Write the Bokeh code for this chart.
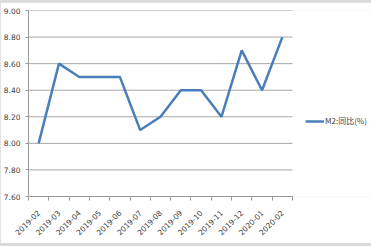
import math
from bokeh.plotting import figure
from bokeh.models import (ColumnDataSource, FixedTicker, NumeralTickFormatter,
                          Range1d, Legend, LegendItem)
from bokeh.layouts import column
from bokeh.embed import file_html
from bokeh.resources import INLINE

categories = ["2019-02", "2019-03", "2019-04", "2019-05", "2019-06", "2019-07",
              "2019-08", "2019-09", "2019-10", "2019-11", "2019-12", "2020-01", "2020-02"]
m2_yoy = [8.0, 8.6, 8.5, 8.5, 8.5, 8.1, 8.2, 8.4, 8.4, 8.2, 8.7, 8.4, 8.8]
y_ticks = [7.6, 7.8, 8.0, 8.2, 8.4, 8.6, 8.8, 9.0]
series_name = "M2:同比(%)"

n = len(categories)
xs = [i + 0.5 for i in range(n)]
src = ColumnDataSource(dict(x=xs, y=m2_yoy, cat=categories))

# frame spans from x=28 to the right edge; plot area occupies categories 0..n
frame_w = 371 - 28
plot_w = 264
x_end = n * frame_w / plot_w

p = figure(width=371, height=241, output_backend="svg", toolbar_location=None,
           x_range=Range1d(0, x_end), y_range=Range1d(7.6, 9.0),
           min_border_left=28, min_border_right=0, min_border_top=8, min_border_bottom=47)
p.margin = (2, 0, 3, 0)
p.outline_line_color = None
p.background_fill_color = "white"
p.border_fill_color = "white"

# horizontal gridlines limited to the plot area
gsrc = ColumnDataSource(dict(x0=[0] * len(y_ticks), x1=[n] * len(y_ticks), y=y_ticks))
p.segment(x0="x0", x1="x1", y0="y", y1="y", source=gsrc, line_color="#a6a6a6", line_width=1)

r = p.line("x", "y", source=src, line_color="#4a7ebb", line_width=2.5)

font = "DejaVu Sans"
# x axis
p.xaxis.bounds = (0, n)
p.xaxis.ticker = FixedTicker(ticks=xs, minor_ticks=list(range(n + 1)))
p.xaxis.major_label_overrides = {x: c for x, c in zip(xs, categories)}
p.xaxis.major_tick_out = 0
p.xaxis.major_tick_in = 0
p.xaxis.minor_tick_out = 4
p.xaxis.minor_tick_in = 0
p.xaxis.minor_tick_line_color = "#9a9a9a"
p.xaxis.axis_line_color = "#9a9a9a"
p.xaxis.major_label_orientation = math.pi / 4
p.xaxis.major_label_text_font = font
p.xaxis.major_label_text_font_size = "7.5px"
p.xaxis.major_label_text_color = "#404040"
p.xaxis.major_label_standoff = 11

# y axis
p.yaxis.ticker = FixedTicker(ticks=y_ticks)
p.yaxis.formatter = NumeralTickFormatter(format="0.00")
p.yaxis.major_tick_out = 3
p.yaxis.major_tick_in = 0
p.yaxis.minor_tick_line_color = None
p.yaxis.major_tick_line_color = "#9a9a9a"
p.yaxis.axis_line_color = "#9a9a9a"
p.yaxis.major_label_text_font = font
p.yaxis.major_label_text_font_size = "7.5px"
p.yaxis.major_label_text_color = "#404040"
p.yaxis.major_label_standoff = 5

p.xgrid.grid_line_color = None
p.ygrid.grid_line_color = None

legend = Legend(items=[LegendItem(label=series_name, renderers=[r])],
                location=(277, 70), padding=0, margin=0, spacing=0,
                glyph_width=19, glyph_height=8, label_standoff=1,
                label_text_font="Noto Sans CJK SC", label_text_font_size="8px",
                label_text_color="#404040", border_line_color=None,
                background_fill_alpha=0)
p.add_layout(legend, "center")

layout = column(p, width=371, height=246, styles={"background-color": "#dadada"})
open("out.html", "w").write(file_html(layout, INLINE))
